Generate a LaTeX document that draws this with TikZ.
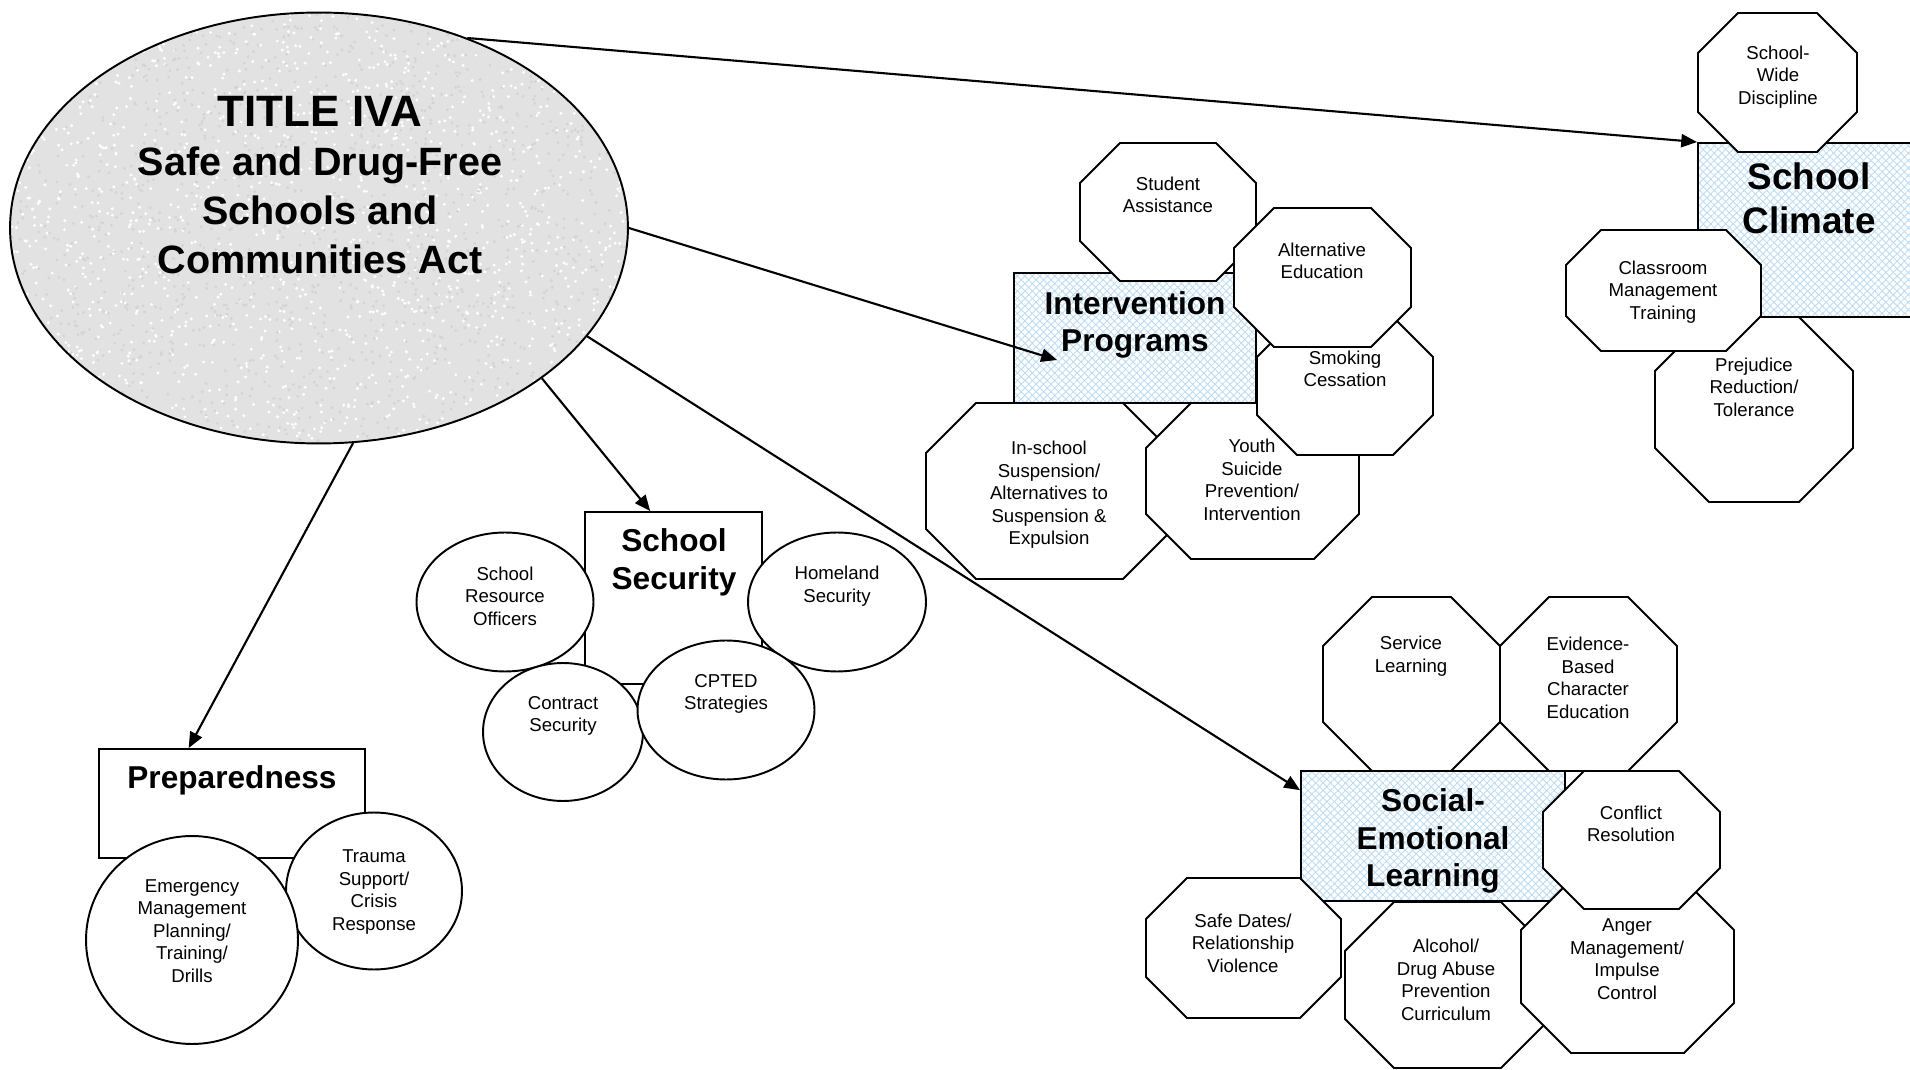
\documentclass[tikz,border=0pt]{standalone}
\usepackage{fontspec}
\setmainfont{Liberation Sans}
\usepackage{xcolor}
\usepackage{tikz}
\usetikzlibrary{arrows.meta, shapes.geometric, patterns.meta}

\definecolor{granit}{RGB}{226,226,226}
\definecolor{raster}{RGB}{188,219,244}

% Achteck: links oben (x1,y1), rechts unten (x2,y2), Ecke
\newcommand{\achteck}[5]{%
  \filldraw[fill=white, line join=miter]
    (#1+#5,#2) -- (#3-#5,#2) -- (#3,#2+#5) -- (#3,#4-#5)
    -- (#3-#5,#4) -- (#1+#5,#4) -- (#1,#4-#5) -- (#1,#2+#5) -- cycle;
}

\begin{document}
\begin{tikzpicture}[x=0.02cm, y=-0.02cm, line width=1.1pt,
  rahmen/.style={draw, rectangle, inner sep=0pt},
  gitter/.style={preaction={fill=white},
    preaction={pattern={Lines[angle=45, distance=3pt, line width=0.5pt]}, pattern color=raster},
    preaction={pattern={Lines[angle=-45, distance=3pt, line width=0.5pt]}, pattern color=raster}},
  blase/.style={draw, ellipse, fill=white, inner sep=0pt},
  kopf/.style={font=\bfseries\fontsize{18}{21.5}\selectfont, align=center, inner sep=0pt},
  punkt/.style={font=\fontsize{10.6}{12.8}\selectfont, align=center, inner sep=0pt},
  pfeil/.style={-{Triangle[length=9pt, width=7.5pt]}, line width=1.2pt}]

\useasboundingbox (0,0) rectangle (1910,1070);
\clip (0,0) rectangle (1910,1070);

% Hauptellipse mit Granit-Muster
\fill[granit] (319,228) ellipse (309 and 216);
\begin{scope}
  \clip (319,228) ellipse (309 and 216);
  \pgfmathsetseed{17}
  \foreach \i in {1,...,1500}
  {
    \fill[black!17] ({319+309*rand},{228+216*rand}) circle (1.6);
    \fill[white] ({319+309*rand},{228+216*rand}) circle (1.6);
  }
\end{scope}
\node[draw, ellipse, inner sep=0pt, minimum width=12.36cm, minimum height=8.62cm] (act) at (319,228) {};
\node[font=\bfseries\fontsize{22.5}{28}\selectfont, align=center] (titel) at (320,185)
  {{\fontsize{25}{28}\selectfont TITLE IVA}\\Safe and Drug-Free\\Schools and\\Communities Act};

% Intervention Programs
\node[rahmen, gitter, minimum width=4.84cm, minimum height=2.6cm] (prog) at (1135,338) {};
\node[kopf] (progtext) at (1135,325) {Intervention\\Programs};
\achteck{926}{403}{1173}{579}{50}
\node[punkt] (iss) at (1049,495) {In-school\\Suspension/\\Alternatives to\\Suspension \&\\Expulsion};
\achteck{1146}{403}{1359}{559}{45}
\node[punkt] (youth) at (1252,480) {Youth\\Suicide\\Prevention/\\Intervention};
\achteck{1257}{317}{1433}{455}{40}
\node[punkt] (smoke) at (1345,369) {Smoking\\Cessation};
\achteck{1080}{143}{1256}{281}{40}
\node[punkt] (assist) at (1168,195) {Student\\Assistance};
\achteck{1234}{208}{1411}{347}{40}
\node[punkt] (alted) at (1322,261) {Alternative\\Education};
\coordinate (progtip) at (1057,360);

% School Climate
\node[rahmen, gitter, minimum width=4.44cm, minimum height=3.48cm] (climate) at (1809,230) {};
\node[kopf, font=\bfseries\fontsize{21}{25}\selectfont] (climatetext) at (1809,198) {School\\Climate};
\achteck{1655}{317}{1853}{502}{54}
\node[punkt] (prejudice) at (1754,387) {Prejudice\\Reduction/\\Tolerance};
\achteck{1566}{230}{1761}{351}{35}
\node[punkt] (classroom) at (1663,292) {Classroom\\Management\\Training};
\achteck{1698}{13}{1857}{152}{40}
\node[punkt] (discipline) at (1778,77) {School-\\Wide\\Discipline};

% Social-Emotional Learning
\node[rahmen, gitter, minimum width=5.28cm, minimum height=2.6cm] (sel) at (1433,836) {};
\node[kopf] (seltext) at (1433,841) {Social-\\Emotional\\Learning};
\achteck{1323}{597}{1500}{771}{49}
\node[punkt] (service) at (1411,656) {Service\\Learning};
\achteck{1500}{597}{1677}{771}{49}
\node[punkt] (character) at (1588,678) {Evidence-\\Based\\Character\\Education};
\achteck{1345}{902}{1550}{1068}{49}
\node[punkt] (alcohol) at (1446,980) {Alcohol/\\Drug Abuse\\Prevention\\Curriculum};
\achteck{1521}{880}{1734}{1053}{50}
\node[punkt] (anger) at (1627,959) {Anger\\Management/\\Impulse\\Control};
\achteck{1543}{771}{1720}{909}{41}
\node[punkt] (conflict) at (1631,824) {Conflict\\Resolution};
\achteck{1146}{878}{1341}{1018}{41}
\node[punkt] (dates) at (1243,943) {Safe Dates/\\Relationship\\Violence};

% School Security
\node[rahmen, minimum width=3.54cm, minimum height=3.44cm] (security) at (673.5,598) {};
\node[kopf] (securitytext) at (674,562) {School\\Security};
\node[blase, minimum width=3.54cm, minimum height=2.78cm] (sro) at (505,602) {};
\node[punkt] (srotext) at (505,596) {School\\Resource\\Officers};
\node[blase, minimum width=3.56cm, minimum height=2.78cm] (homeland) at (837,602) {};
\node[punkt] (homelandtext) at (837,586) {Homeland\\Security};
\node[blase, minimum width=3.2cm, minimum height=2.76cm] (contract) at (563,732) {};
\node[punkt] (contracttext) at (563,716) {Contract\\Security};
\node[blase, minimum width=3.54cm, minimum height=2.78cm] (cpted) at (726,710) {};
\node[punkt] (cptedtext) at (726,694) {CPTED\\Strategies};

% Preparedness
\node[rahmen, minimum width=5.32cm, minimum height=2.18cm] (prep) at (232,803.5) {};
\node[kopf] (preptext) at (232,780) {Preparedness};
\node[blase, minimum width=3.52cm, minimum height=3.14cm] (trauma) at (374,891) {};
\node[punkt] (traumatext) at (374,892) {Trauma\\Support/\\Crisis\\Response};
\node[blase, minimum width=4.24cm, minimum height=4.16cm] (emergency) at (192,940) {};
\node[punkt] (emergencytext) at (192,931) {Emergency\\Management\\Planning/\\Training/\\Drills};

% Pfeile
\draw[pfeil] (act.52.8) -- (climate.north west);
\draw[pfeil] (act.0) -- (progtip);
\draw[pfeil] (act.-22) -- (sel.161.6);
\draw[pfeil] (act.-34.5) -- (security.105);
\draw[pfeil] (act.-81.7) -- (prep.128);

\end{tikzpicture}
\end{document}
